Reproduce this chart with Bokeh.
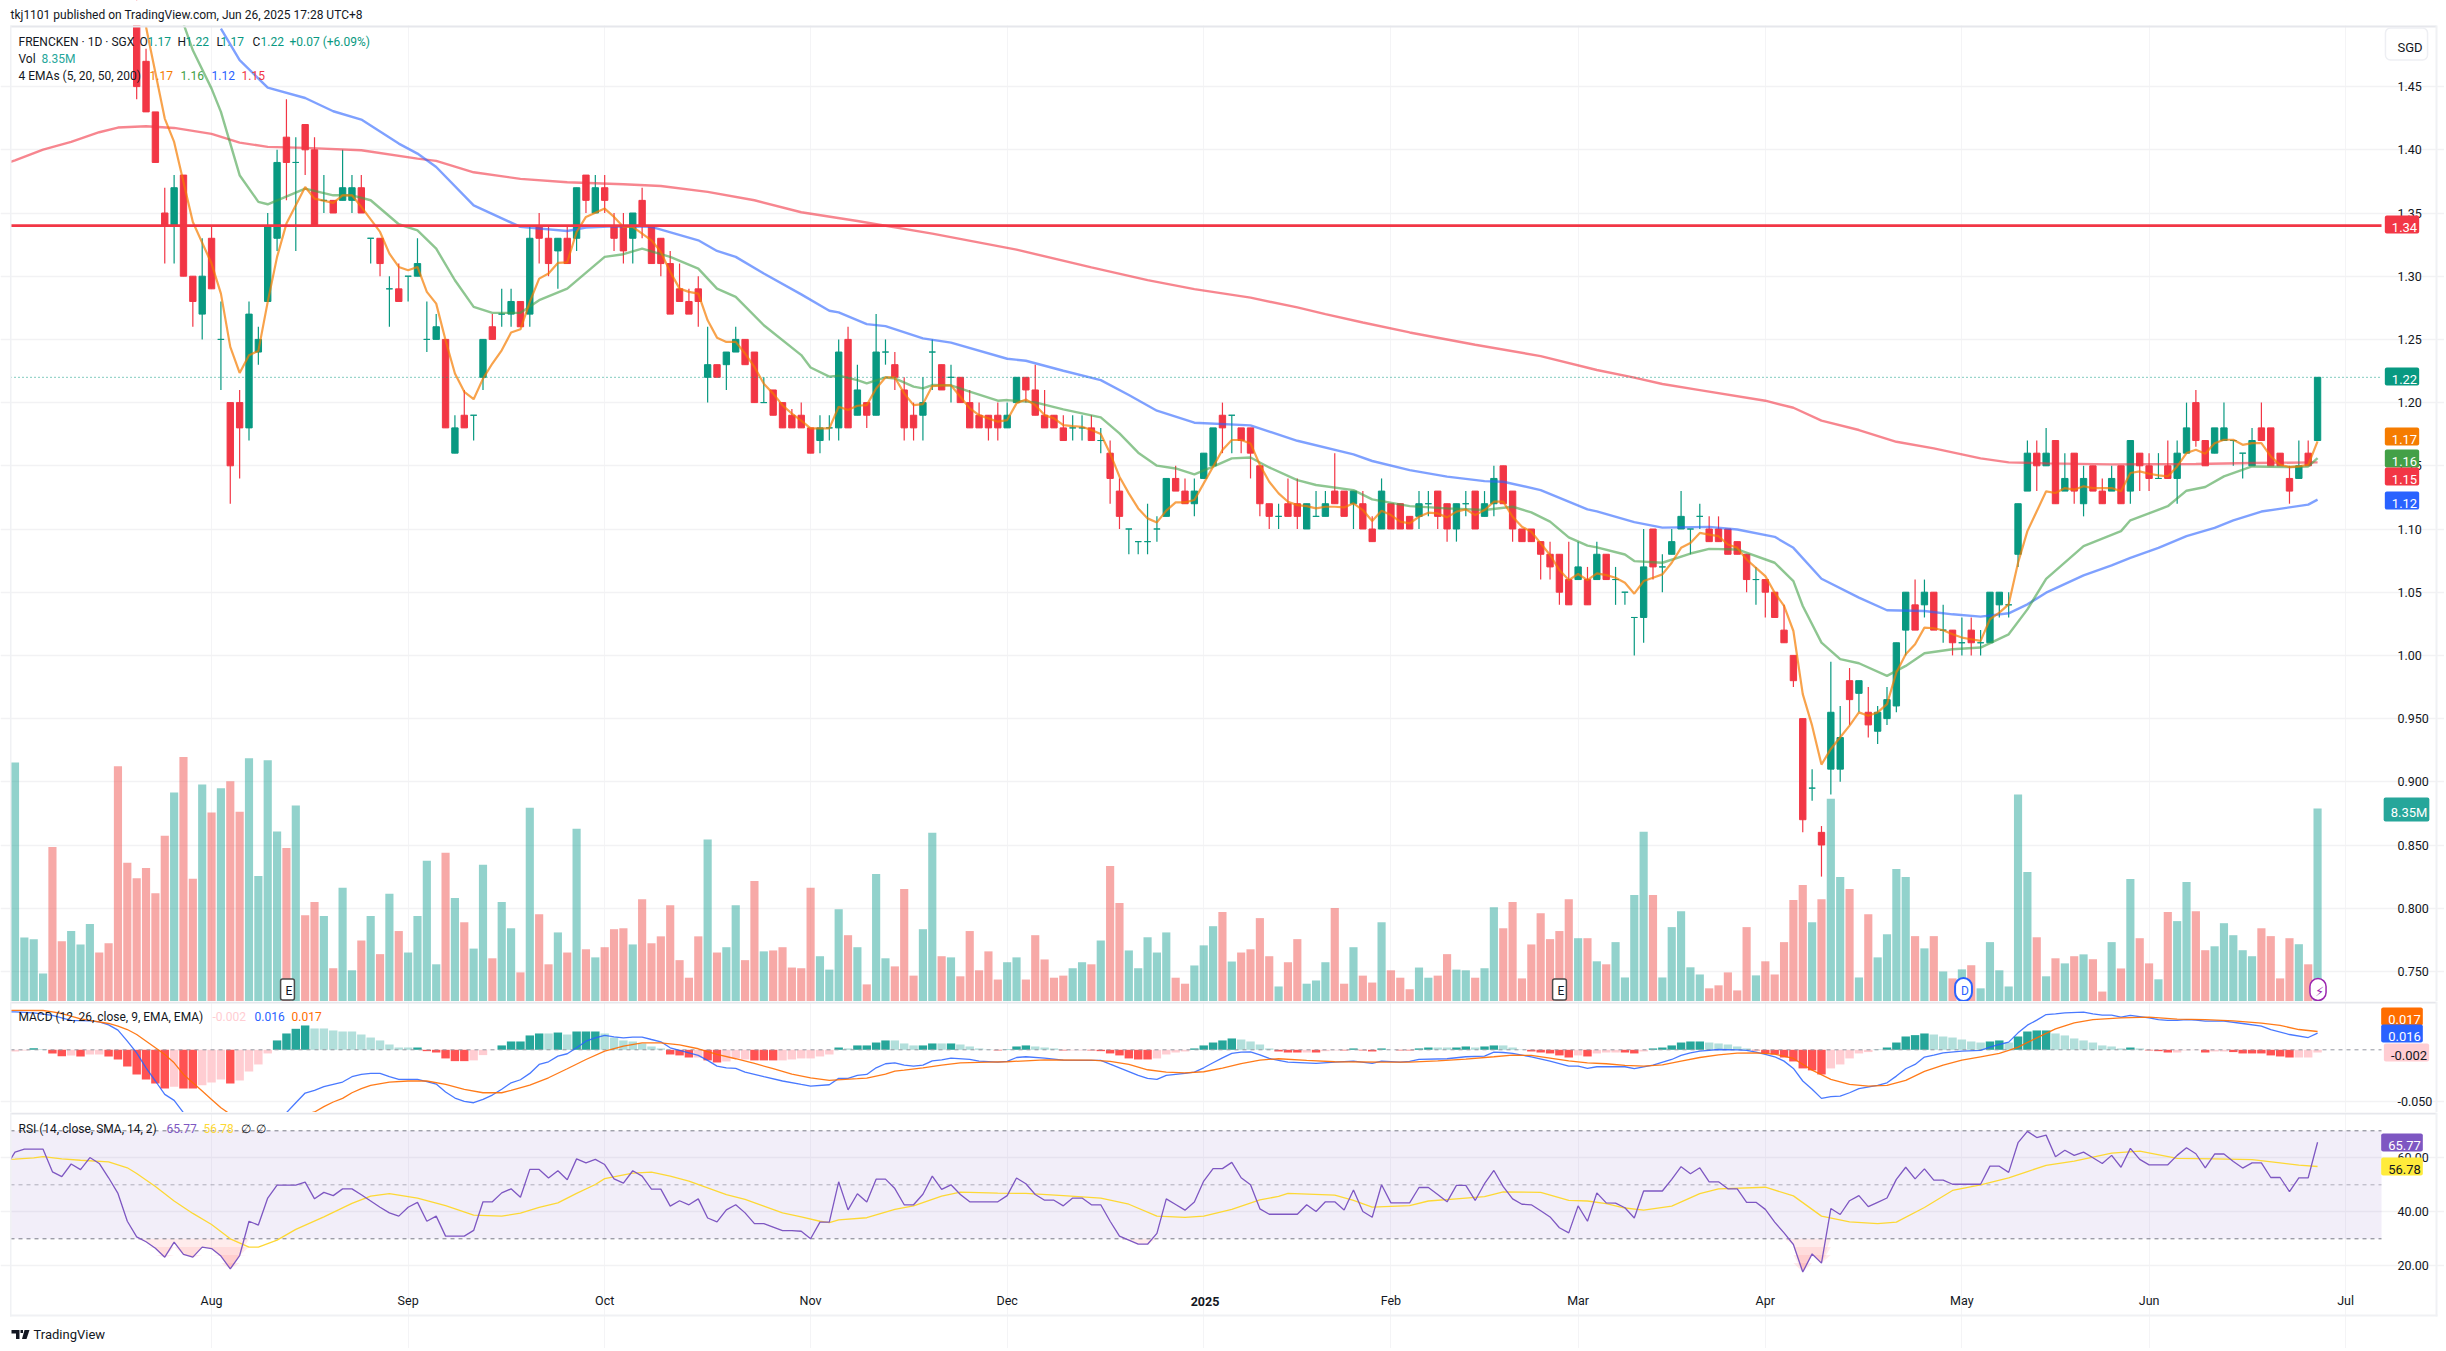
from bokeh.plotting import figure
from bokeh.layouts import column
from bokeh.models import (Range1d, FixedTicker, Label, BoxAnnotation, PolyAnnotation, LinearAxis)
from bokeh.embed import file_html
from bokeh.resources import INLINE
import numpy as np

# ---------------------------------------------------------------- data
TITLE = "tkj1101 published on TradingView.com, Jun 26, 2025 17:28 UTC+8"
PRICE_TICKS = [1.45,1.40,1.35,1.30,1.25,1.20,1.15,1.10,1.05,1.00,0.95,0.90,0.85,0.80,0.75]
PRICE_TICK_LABELS = ["1.45","1.40","1.35","1.30","1.25","1.20","1.15","1.10","1.05","1.00","0.950","0.900","0.850","0.800","0.750"]
MONTH_POS = [21,42,63,85,106,127,147,167,187,208,228,249]
MONTH_LABELS = ["Aug","Sep","Oct","Nov","Dec","2025","Feb","Mar","Apr","May","Jun","Jul"]
LEVEL = 1.34
LAST_CLOSE = 1.22

CANDLE_START = 13
CANDLE_DIR = ("RRRRGRRGRG" "RRGGGGRGRR" "GRGGRGRGRG" "GGGRGRGGRG" "GRGRRGRGRG" "RRRGRRRRRR"
              "RGRGGRRGRR" "RRRGGGRGRG" "GRRRGGRGRR" "RRRGGRRRRR" "GGRGRRGGGG" "GRRGGGRGRR"
              "RRGRRGGGRR" "GRRGRRRGGR" "RGGRGGRRRR" "RRRRGRGRGG" "GGRGGGGGRR" "RRRGRRRRRG"
              "RGGRGRGGGG" "RGRGRGRGGG" "GGGRGRGRGR" "RGRGRRGRGG" "RRGGGGGRRR" "RGRG")
CANDLE_HIGH = [1.53,1.48,1.43,1.37,1.38,1.38,1.30,1.33,1.34,1.28,
 1.20,1.21,1.28,1.26,1.35,1.40,1.44,1.41,1.42,1.41,
 1.38,1.36,1.40,1.38,1.38,1.33,1.33,1.30,1.31,1.30,
 1.33,1.28,1.27,1.25,1.19,1.21,1.19,1.25,1.27,1.29,
 1.29,1.28,1.34,1.35,1.34,1.33,1.34,1.37,1.38,1.38,
 1.38,1.35,1.35,1.35,1.37,1.34,1.33,1.32,1.31,1.29,
 1.30,1.26,1.23,1.24,1.26,1.25,1.24,1.22,1.21,1.20,
 1.195,1.20,1.18,1.19,1.19,1.25,1.26,1.23,1.20,1.27,
 1.25,1.24,1.22,1.20,1.22,1.25,1.23,1.23,1.22,1.21,
 1.20,1.19,1.20,1.20,1.22,1.22,1.23,1.21,1.19,1.19,
 1.19,1.19,1.19,1.18,1.17,1.14,1.10,1.09,1.12,1.11,
 1.14,1.15,1.14,1.14,1.16,1.18,1.20,1.19,1.18,1.18,
 1.15,1.12,1.12,1.14,1.14,1.12,1.13,1.13,1.16,1.13,
 1.13,1.13,1.11,1.14,1.12,1.12,1.11,1.13,1.13,1.13,
 1.12,1.12,1.13,1.13,1.13,1.15,1.15,1.13,1.10,1.10,
 1.09,1.09,1.08,1.09,1.09,1.07,1.09,1.08,1.07,1.05,
 1.03,1.10,1.10,1.08,1.10,1.13,1.10,1.12,1.11,1.11,
 1.10,1.09,1.08,1.07,1.06,1.05,1.04,1.00,.95,.91,
 .865,.995,.96,.99,.98,.975,.96,.975,1.01,1.05,
 1.06,1.06,1.05,1.04,1.02,1.03,1.03,1.02,1.05,1.05,
 1.05,1.12,1.17,1.17,1.18,1.17,1.16,1.16,1.15,1.15,
 1.14,1.15,1.15,1.17,1.16,1.16,1.16,1.17,1.17,1.20,
 1.21,1.17,1.18,1.20,1.17,1.16,1.18,1.20,1.18,1.16,
 1.15,1.17,1.17,1.22]
CANDLE_TOP = [1.51,1.47,1.43,1.35,1.37,1.38,1.30,1.30,1.33,1.25,
 1.20,1.20,1.27,1.25,1.34,1.39,1.41,1.39,1.42,1.40,
 1.36,1.36,1.37,1.37,1.37,1.33,1.33,1.29,1.29,1.30,
 1.31,1.25,1.26,1.25,1.18,1.19,1.19,1.25,1.26,1.27,
 1.28,1.28,1.33,1.34,1.33,1.33,1.33,1.37,1.38,1.37,
 1.37,1.34,1.34,1.35,1.36,1.34,1.33,1.31,1.29,1.28,
 1.29,1.23,1.23,1.24,1.25,1.25,1.24,1.20,1.21,1.20,
 1.19,1.19,1.18,1.18,1.18,1.24,1.25,1.21,1.20,1.24,
 1.24,1.23,1.21,1.19,1.20,1.24,1.23,1.22,1.22,1.20,
 1.19,1.19,1.19,1.19,1.22,1.22,1.21,1.19,1.19,1.18,
 1.18,1.18,1.18,1.17,1.16,1.13,1.10,1.09,1.09,1.10,
 1.14,1.14,1.13,1.13,1.16,1.18,1.19,1.19,1.18,1.18,
 1.15,1.12,1.11,1.12,1.12,1.12,1.11,1.12,1.13,1.13,
 1.13,1.12,1.10,1.13,1.12,1.12,1.11,1.12,1.12,1.13,
 1.12,1.12,1.12,1.13,1.12,1.14,1.15,1.13,1.10,1.10,
 1.09,1.08,1.08,1.06,1.07,1.06,1.08,1.08,1.06,1.05,
 1.03,1.07,1.10,1.07,1.09,1.11,1.10,1.11,1.10,1.10,
 1.10,1.09,1.08,1.06,1.06,1.05,1.02,1.00,.95,.895,
 .86,.955,.935,.98,.98,.955,.955,.965,1.01,1.05,
 1.04,1.05,1.05,1.02,1.02,1.01,1.02,1.01,1.05,1.05,
 1.04,1.12,1.16,1.16,1.16,1.17,1.14,1.16,1.14,1.15,
 1.13,1.14,1.15,1.17,1.16,1.15,1.14,1.15,1.16,1.18,
 1.20,1.17,1.18,1.18,1.17,1.16,1.17,1.18,1.18,1.16,
 1.14,1.15,1.16,1.22]
CANDLE_BOTTOM = [1.45,1.43,1.39,1.34,1.34,1.30,1.28,1.27,1.29,1.25,
 1.15,1.18,1.18,1.24,1.28,1.33,1.39,1.39,1.40,1.34,
 1.36,1.35,1.36,1.36,1.35,1.33,1.31,1.29,1.28,1.30,
 1.30,1.25,1.25,1.18,1.16,1.18,1.19,1.22,1.25,1.27,
 1.27,1.26,1.27,1.33,1.31,1.32,1.31,1.33,1.36,1.35,
 1.36,1.33,1.32,1.33,1.34,1.31,1.31,1.27,1.28,1.27,
 1.28,1.22,1.22,1.23,1.24,1.23,1.20,1.20,1.19,1.18,
 1.18,1.18,1.16,1.17,1.18,1.18,1.18,1.19,1.19,1.19,
 1.24,1.22,1.18,1.18,1.19,1.24,1.21,1.22,1.20,1.18,
 1.18,1.18,1.18,1.18,1.20,1.21,1.19,1.18,1.18,1.17,
 1.18,1.18,1.17,1.17,1.14,1.11,1.10,1.09,1.09,1.10,
 1.11,1.13,1.12,1.12,1.14,1.15,1.18,1.19,1.17,1.16,
 1.12,1.11,1.11,1.11,1.11,1.10,1.11,1.11,1.12,1.11,
 1.12,1.10,1.09,1.10,1.10,1.10,1.10,1.11,1.12,1.11,
 1.10,1.10,1.12,1.10,1.11,1.12,1.12,1.10,1.09,1.09,
 1.08,1.07,1.05,1.04,1.06,1.04,1.06,1.06,1.06,1.05,
 1.03,1.03,1.07,1.07,1.08,1.10,1.10,1.11,1.09,1.09,
 1.08,1.08,1.06,1.06,1.05,1.03,1.01,.98,.87,.895,
 .85,.91,.91,.965,.97,.945,.94,.95,.96,1.02,
 1.02,1.04,1.02,1.02,1.01,1.01,1.01,1.01,1.01,1.04,
 1.04,1.08,1.13,1.15,1.15,1.12,1.13,1.13,1.12,1.13,
 1.12,1.13,1.12,1.13,1.15,1.14,1.14,1.14,1.14,1.16,
 1.17,1.15,1.16,1.17,1.17,1.16,1.15,1.17,1.15,1.15,
 1.13,1.14,1.15,1.17]
CANDLE_LOW = [1.44,1.43,1.39,1.31,1.31,1.30,1.26,1.25,1.29,1.21,
 1.12,1.14,1.17,1.23,1.28,1.32,1.36,1.32,1.38,1.34,
 1.35,1.35,1.36,1.35,1.35,1.31,1.30,1.26,1.28,1.28,
 1.30,1.24,1.25,1.18,1.16,1.18,1.17,1.21,1.25,1.26,
 1.26,1.26,1.26,1.31,1.30,1.29,1.31,1.32,1.35,1.35,
 1.35,1.32,1.31,1.31,1.33,1.31,1.30,1.27,1.28,1.27,
 1.26,1.20,1.22,1.21,1.24,1.23,1.20,1.20,1.19,1.18,
 1.18,1.18,1.16,1.16,1.17,1.17,1.18,1.19,1.18,1.19,
 1.23,1.21,1.17,1.17,1.17,1.21,1.21,1.20,1.20,1.18,
 1.18,1.17,1.17,1.18,1.20,1.20,1.19,1.18,1.18,1.17,
 1.17,1.17,1.17,1.16,1.12,1.10,1.08,1.08,1.08,1.09,
 1.11,1.13,1.12,1.11,1.14,1.15,1.16,1.16,1.16,1.14,
 1.11,1.10,1.10,1.11,1.10,1.10,1.11,1.11,1.12,1.11,
 1.10,1.10,1.09,1.10,1.10,1.10,1.10,1.10,1.11,1.10,
 1.09,1.09,1.11,1.10,1.11,1.11,1.12,1.09,1.09,1.09,
 1.06,1.06,1.04,1.04,1.06,1.04,1.06,1.06,1.04,1.04,
 1.00,1.01,1.06,1.05,1.08,1.10,1.08,1.10,1.09,1.09,
 1.08,1.08,1.05,1.04,1.03,1.03,1.01,.975,.86,.885,
 .825,.89,.90,.945,.955,.935,.93,.945,.955,1.00,
 1.02,1.03,1.02,1.01,1.00,1.00,1.00,1.00,1.01,1.03,
 1.03,1.07,1.13,1.13,1.15,1.12,1.13,1.12,1.11,1.13,
 1.12,1.13,1.12,1.12,1.13,1.13,1.14,1.14,1.12,1.16,
 1.165,1.15,1.16,1.17,1.15,1.14,1.15,1.17,1.15,1.15,
 1.12,1.14,1.15,1.17]

VOL_DIR_OFFCHART = "GGGGRRGGGRRRR"
VOLUME_M = [10.35,2.77,2.70,1.21,6.69,2.61,3.05,2.47,3.35,2.12,2.52,10.18,6.01,5.34,5.78,4.69,7.18,9.05,10.58,5.31,
 9.39,8.18,9.23,9.53,8.21,10.53,5.43,10.44,7.36,6.65,8.48,3.73,4.31,3.70,1.44,4.92,1.35,2.64,3.70,2.05,
 4.66,3.05,2.12,3.70,6.09,1.61,6.44,4.48,3.43,2.29,5.92,1.87,4.31,3.17,1.26,8.39,3.78,1.61,2.99,2.12,
 7.48,2.26,1.91,2.35,3.13,3.17,2.47,4.43,2.52,2.82,4.17,1.79,1.03,2.82,7.01,2.12,2.35,4.17,1.79,5.22,
 2.17,2.21,2.35,1.47,1.44,4.92,1.96,1.38,3.99,2.87,2.35,0.74,5.52,1.87,1.52,4.87,1.12,3.13,7.30,1.96,
 1.91,1.09,3.05,1.35,2.17,0.95,1.70,1.91,0.95,2.87,1.82,1.03,1.12,1.44,1.70,1.61,2.64,5.87,4.26,2.21,
 1.44,2.78,2.12,2.99,1.03,0.77,1.56,2.43,3.26,3.87,1.73,2.12,2.26,3.61,1.96,0.65,1.70,2.70,0.77,0.91,
 1.70,4.05,0.77,2.35,1.12,0.82,3.43,1.35,1.03,0.53,1.47,1.03,1.12,2.05,1.38,1.35,1.03,1.44,4.08,3.17,
 4.31,1.00,2.47,3.82,2.70,3.05,4.43,2.74,2.74,1.74,1.61,2.57,1.04,4.61,7.35,4.61,1.04,3.22,3.91,1.48,
 1.17,0.57,0.70,1.26,0.48,3.22,1.13,1.74,1.17,2.57,4.39,5.04,3.43,4.43,8.78,5.39,4.87,1.04,3.78,1.91,
 2.91,5.74,5.39,2.83,2.30,2.83,1.30,1.00,1.39,1.57,0.57,2.57,1.35,0.65,8.96,5.61,2.78,1.09,1.87,1.65,
 1.96,2.04,1.83,0.43,2.57,1.43,5.30,2.74,1.65,0.96,3.87,3.48,5.17,3.91,2.22,2.39,3.39,2.87,2.22,1.96,
 3.17,2.83,1.00,2.74,2.48,1.61,8.35]

EMA5_X = [14,16,17,19,21,22,23,24,25,26,27,28,29,31,32,34,35,36,37,39,40,41,42,43,44,45,46,47,48,49,50,51,52,53,54,55,56,57,58,59,60,61,63,64,65,66,68,69,70,71,72,73,74,75,76,77,78,79,80,81,82,83,
 84,85,87,88,89,90,91,92,93,94,95,96,97,98,99,100,101,102,103,104,105,106,107,108,109,110,111,112,113,114,115,116,117,118,119,120,121,122,123,124,125,126,127,128,129,130,131,132,133,134,135,136,137,138,139,140,141,142,143,144,145,146,147,148,149,150,151,152,153,154,155,156,157,158,159,160,161,162,163,164,165,166,167,168,169,
 170,171,172,173,174,175,176,177,178,179,180,181,182,183,184,185,186,187,188,189,190,191,192,193,194,195,196,197,198,199,200,201,202,203,204,205,206,207,208,209,210,211,212,213,214,215,216,217,218,219,220,221,222,223,224,225,226,227,228,229,230,231,232,233,234,235,236,237,238,239,240,241,242,243,244,245,246]
EMA5_Y = [1.4972,1.4247,1.4062,1.3429,1.3100,1.2862,1.2441,1.2235,1.2375,1.2409,1.2797,1.3153,1.3416,1.3706,1.3614,1.3580,1.3640,1.3640,1.3548,1.3350,1.3179,1.3073,1.3047,1.3073,1.2876,1.2783,1.2493,1.2230,1.2085,1.2027,1.2190,1.2309,1.2414,1.2554,1.2580,1.2797,1.2981,1.3021,1.3105,1.3110,1.3350,1.3469,1.3535,1.3469,1.3390,1.3390,1.3284,1.3192,1.3034,1.2902,1.2876,1.2862,1.2651,1.2514,1.2480,1.2480,1.2388,1.2282,1.2150,1.2071,1.1979,1.1913,
 1.1857,1.1796,1.1796,1.1967,1.1941,1.1975,1.1980,1.2112,1.2199,1.2199,1.2073,1.1980,1.1988,1.2131,1.2136,1.2136,1.2046,1.1954,1.1901,1.1875,1.1849,1.1862,1.1994,1.2025,1.1980,1.1901,1.1875,1.1822,1.1814,1.1809,1.1783,1.1751,1.1598,1.1414,1.1282,1.1163,1.1084,1.1052,1.1145,1.1211,1.1211,1.1229,1.1361,1.1493,1.1625,1.1704,1.1704,1.1677,1.1506,1.1374,1.1282,1.1216,1.1189,1.1181,1.1163,1.1176,1.1176,1.1171,1.1203,1.1150,1.1063,1.1145,1.1110,1.1058,1.1044,1.1097,1.1129,1.1123,1.1092,1.1137,1.1155,1.1110,1.1150,1.1216,1.1216,1.1097,1.1018,1.0978,1.0886,1.0794,1.0675,1.0596,1.0644,1.0596,1.0649,
 1.0635,1.0614,1.0575,1.0488,1.0588,1.0614,1.0641,1.0733,1.0851,1.0890,1.0969,1.0956,1.0943,1.0877,1.0851,1.0759,1.0693,1.0627,1.0496,1.0391,1.0193,.9694,.9444,.9136,.9260,.9352,.9444,.9549,.9523,.9549,.9615,.9865,1.0009,1.0088,1.0220,1.0215,1.0199,1.0167,1.0141,1.0128,1.0115,1.0286,1.0338,1.0404,1.0733,1.0983,1.1140,1.1298,1.1285,1.1324,1.1311,1.1338,1.1324,1.1324,1.1324,1.1298,1.1443,1.1456,1.1437,1.1424,1.1416,1.1495,1.1601,1.1627,1.1595,1.1679,1.1706,1.1706,1.1666,1.1679,1.1679,1.1574,1.1508,1.1490,1.1495,1.1508,1.1693]

EMA20_X = [18,19,21,22,24,26,27,31,34,36,38,41,43,45,47,49,51,54,56,59,63,65,67,70,73,75,77,80,84,85,87,88,90,91,93,94,96,97,98,100,102,105,106,109,112,116,118,120,122,124,126,128,130,132,134,137,139,143,145,149,153,157,160,162,164,166,168,169,172,173,176,179,181,184,188,190,191,193,195,197,200,202,204,207,210,213,215,217,221,225,226,230,232,234,236,239,243,245,246]
EMA20_Y = [1.4998,1.4787,1.4484,1.4300,1.3799,1.3588,1.3569,1.3693,1.3640,1.3640,1.3601,1.3411,1.3363,1.3218,1.2968,1.2757,1.2710,1.2710,1.2810,1.2902,1.3153,1.3174,1.3218,1.3153,1.3060,1.2902,1.2836,1.2612,1.2376,1.2278,1.2205,1.2213,1.2178,1.2152,1.2199,1.2191,1.2126,1.2112,1.2139,1.2136,1.2086,1.2015,1.2020,1.2002,1.1946,1.1883,1.1756,1.1604,1.1501,1.1479,1.1432,1.1493,1.1559,1.1566,1.1487,1.1387,1.1348,1.1308,1.1234,1.1181,1.1163,1.1150,1.1176,1.1131,1.1058,1.0934,1.0868,1.0855,1.0798,1.0746,1.0733,1.0806,1.0843,1.0838,1.0733,1.0588,1.0391,1.0101,.9970,.9938,.9838,.9917,1.0017,1.0049,1.0062,1.0167,1.0364,1.0606,1.0864,1.0983,1.1069,1.1180,1.1303,1.1332,1.1416,1.1495,1.1490,1.1495,1.1561]

EMA50_X = [22,24,27,31,34,37,41,43,45,49,54,59,61,64,68,73,75,77,80,84,87,88,91,93,97,100,106,108,112,116,119,122,126,132,137,143,145,149,153,157,159,163,168,169,173,176,181,184,188,190,193,197,200,204,207,210,213,215,217,221,224,226,229,232,235,237,240,245,246]
EMA50_Y = [1.4959,1.4709,1.4492,1.4410,1.4305,1.4239,1.4049,1.3970,1.3864,1.3561,1.3390,1.3358,1.3385,1.3395,1.3390,1.3284,1.3200,1.3153,1.3021,1.2856,1.2727,1.2714,1.2621,1.2605,1.2508,1.2474,1.2347,1.2331,1.2252,1.2178,1.2060,1.1936,1.1841,1.1820,1.1698,1.1590,1.1538,1.1466,1.1414,1.1379,1.1374,1.1308,1.1155,1.1140,1.1054,1.1011,1.1017,1.0996,1.0938,1.0851,1.0606,1.0457,1.0357,1.0351,1.0325,1.0307,1.0333,1.0404,1.0496,1.0633,1.0712,1.0772,1.0851,1.0943,1.1009,1.1069,1.1138,1.1193,1.1232]

EMA200_X = [-0.48,0,3,6,9,11,14,17,21,24,27,31,37,43,45,49,54,59,65,69,74,79,84,90,98,107,115,121,126,132,137,140,144,149,156,163,169,173,176,180,187,190,193,197,201,205,210,213,217,224,233,239,246]
EMA200_Y = [1.3905,1.3917,1.4002,1.4062,1.4139,1.4176,1.4186,1.4173,1.4126,1.4057,1.4023,1.4015,1.3996,1.3930,1.3912,1.3822,1.3770,1.3743,1.3727,1.3714,1.3667,1.3601,1.3506,1.3437,1.3337,1.3210,1.3070,1.2969,1.2898,1.2830,1.2753,1.2700,1.2634,1.2555,1.2458,1.2368,1.2258,1.2197,1.2147,1.2099,1.2015,1.1959,1.1857,1.1783,1.1690,1.1638,1.1559,1.1527,1.1519,1.1511,1.1514,1.1522,1.1527]

HIST_COLOR_CODE = ("rrTtRRrRrr" "RRRRRRRrRR" "rrrRrrrrTT" "TTtttttttt" "tttTRRRRRr" "rrTTTTTtTt" "TTTttttttt"
  "RRRrRRrrrR" "RRrrrrrrTt" "TTTTtttTTt" "TttttRTTTt" "ttRrrRRRRR" "RRrrrrTTTT" "TttttRRRrR" "rrRTRRTtRR"
  "TTttTTtTTt" "ttRRRRRrRr" "rrRRrTTTTT" "TtttttRRRR" "RRRRrrrrrT" "TTTTTttttt" "tTTtTTTTtt" "ttttttTtRR"
  "RrrrRrrRRR" "RRRRrrr")
MACD_HIST_MILLI = [-1.6,-0.6,1.6,0.6,-3.5,-6.1,-5.4,-6.4,-4.5,-4.5,
 -6.4,-9.3,-16.0,-23.7,-28.5,-32.3,-37.1,-35.5,-37.1,-37.1,
 -34.2,-31.4,-28.5,-32.3,-29.4,-20.8,-14.1,-3.5,9.0,15.7,
 20.2,23.4,20.5,20.5,18.6,17.6,17.6,14.7,11.8,9.0,
 5.1,2.2,2.2,2.2,-1.3,-2.6,-8.3,-10.9,-10.9,-10.2,
 -5.1,-0.3,4.2,8.0,8.0,13.8,15.7,15.7,16.6,14.7,
 17.6,17.6,17.6,15.7,11.8,9.0,8.0,6.1,3.2,1.3,
 -4.5,-5.4,-7.4,-7.4,-10.2,-12.2,-11.2,-8.3,-9.3,-10.2,
 -10.2,-10.2,-10.2,-9.3,-8.3,-8.3,-6.4,-4.5,2.2,1.3,
 4.2,4.2,7.0,9.0,9.0,6.1,4.2,4.2,6.1,6.1,
 6.1,5.1,3.2,1.3,0.3,-0.6,0.3,3.2,4.2,3.2,
 2.2,1.3,-0.6,-0.6,-0.6,-0.6,-1.3,-3.5,-5.4,-8.3,
 -9.3,-9.3,-8.3,-4.5,-2.6,-1.6,1.3,4.2,7.0,9.0,
 10.9,9.9,8.0,5.1,1.3,-1.6,-2.6,-2.6,-2.6,-2.6,
 -1.3,-0.6,-0.6,1.3,-0.6,-1.6,1.3,0.1,-0.6,-0.6,
 1.3,2.2,2.2,2.2,2.2,3.2,2.2,3.2,4.2,4.2,
 2.2,0.3,-1.6,-2.6,-3.5,-5.4,-7.4,-5.4,-6.4,-3.5,
 -2.6,-2.6,-2.6,-3.5,-1.6,1.3,2.2,4.2,7.0,8.0,
 8.0,7.0,6.1,5.1,3.2,1.3,-0.6,-3.5,-4.5,-7.4,
 -11.2,-17.9,-19.8,-23.7,-17.9,-14.1,-8.3,-3.5,-2.2,0.2,
 2.2,7.0,12.8,14.1,15.7,14.7,12.8,11.8,9.9,8.0,
 7.0,8.0,9.0,7.0,12.8,17.6,18.6,18.6,15.7,13.8,
 10.9,9.0,7.0,4.2,3.2,1.3,2.2,1.3,-0.6,-1.3,
 -2.6,-2.6,-0.6,-0.3,-2.6,-1.6,-1.6,-2.2,-3.5,-3.5,
 -3.5,-5.4,-6.4,-7.4,-7.4,-7.4,-2.6]

MACD_X = [-0.48,0,2,4,6,8,9,10,11,12,13,14,15,16,17,18,20,22,24,26,28,29,30,31,32,33,35,36,37,38,39,40,41,43,44,45,46,47,48,49,50,51,52,53,54,55,56,57,58,59,60,61,62,63,64,65,66,67,68,69,70,72,73,74,75,76,77,78,80,82,84,
 85,87,88,89,90,91,92,93,94,95,96,97,98,99,100,102,103,105,106,107,108,110,112,116,117,118,120,121,122,123,125,126,127,128,129,130,131,132,133,134,135,136,139,141,143,145,146,148,149,150,153,155,157,158,159,160,162,164,166,167,168,169,
 170,172,173,175,177,178,179,180,182,184,185,186,187,188,189,190,191,192,193,194,195,196,197,199,200,201,202,203,204,205,206,208,210,211,212,213,214,215,216,217,218,219,221,222,223,224,225,226,228,229,230,231,232,233,234,236,238,240,241,243,245,246]
MACD_Y = [36.5,36.5,35.5,33,28.2,27.8,26.9,24,18.9,8.3,-2.9,-17.3,-30,-42.9,-48.6,-60.5,-70,-78,-80,-74,-66,-60.5,-50.9,-41.6,-39,-35.5,-31,-25.9,-23.7,-22.7,-22.7,-25.9,-28.5,-28.5,-30.7,-33,-40.6,-46.4,-49.6,-50.9,-47.7,-43.5,-38,-31.7,-28.8,-22.7,-14.1,-11.5,-6.1,-3.8,1.9,8.3,11.5,13.8,12.5,11.5,12.2,12.2,9.9,7.7,1.9,-2.9,-5.4,-10.2,-15.7,-17.3,-17.9,-21.4,-25.9,-30,-33.3,
 -34.9,-33.6,-27.5,-27.5,-24.6,-23.7,-17.3,-13.4,-12.5,-14.7,-15.7,-14.7,-10.6,-9.6,-8,-9.3,-10.9,-11.8,-11.2,-7.4,-6.7,-8,-9.9,-10.2,-13.8,-17.3,-24.6,-27.5,-28.5,-24.6,-22.7,-21.4,-17.3,-12.5,-7.7,-3.5,-2.2,-1.9,-4.8,-8.3,-10.2,-11.8,-13.1,-11.8,-10.9,-13.1,-10.9,-11.8,-11.2,-9.3,-8.6,-6.7,-6.1,-2.2,-2.6,-3.5,-6.7,-10.9,-15.7,-15.7,-17.9,-16.3,
 -16.3,-16.3,-18.2,-14.7,-9.3,-5.4,-2.9,-1.3,0.3,0,-0.6,-2.2,-4.5,-6.7,-10.9,-17.9,-30,-38,-46.7,-45.1,-44.5,-41.3,-37.4,-34.2,-31.7,-25.3,-18.2,-14.1,-7,-5.1,-2.9,-1.3,-0.6,2.6,5.1,7.4,16.3,23.7,28.5,33.9,34.6,35.5,36.2,34.6,33.3,33.3,31.4,33,30.7,29.1,28.2,28.2,29.1,28.5,27.5,27.5,25.3,22.7,19.5,14.7,11.8,16.0]

SIGNAL_X = [-0.48,0,3,4,5,7,8,10,11,12,13,15,16,17,18,19,20,21,22,23,25,27,29,31,32,33,34,35,36,37,38,40,42,44,46,48,50,52,53,55,57,59,61,63,65,67,69,71,73,75,77,79,81,83,
 85,87,90,91,93,94,95,97,99,101,104,106,108,110,115,117,119,121,123,125,127,129,131,133,135,138,141,146,149,152,155,158,160,162,164,166,168,
 170,172,174,176,178,180,182,184,186,188,190,192,194,196,198,200,202,204,206,208,210,212,213,214,216,218,220,222,225,228,231,234,237,240,242,244,246]
SIGNAL_Y = [38,38,37.8,36.5,34.9,29.8,28.2,25.3,22.7,19.5,14.7,1.9,-4.5,-12.5,-23.7,-31.7,-39.7,-47.7,-55.7,-62,-70,-73,-71,-62,-59.8,-54.7,-50.2,-46.7,-41.3,-37.4,-34.2,-31,-30,-30,-33.3,-38,-41.3,-41.3,-39,-33.9,-26.9,-18.2,-9.3,-1.3,3.5,6.7,6.7,4.8,1,-4.5,-8.6,-13.1,-18.2,-23.4,
 -26.9,-29.4,-27.8,-27.2,-23.4,-20.5,-19.5,-17.3,-14.7,-12.5,-11.8,-11.5,-10.6,-9.6,-9.9,-11.2,-14.1,-19.2,-21.4,-22.1,-21.1,-17.6,-13.4,-9.9,-8.6,-10.2,-11.5,-11.8,-11.8,-10.6,-9,-6.7,-5.1,-5.4,-8,-10.6,-12.5,
 -13.4,-15,-15.7,-14.4,-10.9,-7.4,-4.8,-3.2,-2.9,-4.2,-8.3,-19.5,-28.5,-33.3,-34.9,-34.2,-29.4,-20.8,-14.7,-9.9,-6.7,-3.5,-0.6,2.6,11.5,20.2,25.9,29.1,30.7,31.4,29.4,29.1,27.8,25.6,23.4,19.5,17.6]

RSI_BEFORE_FIRST_BAR = 59.4
RSI = [62.1,63.2,63.2,63.2,54.8,53.0,57.7,55.6,60.1,57.9,52.6,46.8,36.5,30.7,28.9,26.5,23.2,28.8,24.2,23.2,
 26.9,26.4,23.6,18.9,23.8,36.5,35.1,45.1,49.9,49.9,49.9,51.0,44.8,47.2,46.0,48.5,48.5,46.3,44.0,41.7,
 39.6,38.4,41.7,43.5,36.5,38.4,31.0,31.0,31.0,33.1,43.7,43.7,47.0,48.5,45.4,55.7,55.7,52.5,55.2,51.9,
 59.6,58.1,59.4,57.5,52.2,50.6,55.2,53.2,48.4,48.4,42.1,44.1,42.6,44.8,37.7,36.3,40.7,42.6,39.6,35.6,
 35.6,34.3,33.0,33.0,32.8,30.0,36.2,36.2,51.1,40.7,46.7,43.6,52.1,52.1,48.6,42.6,42.6,46.5,53.2,48.3,
 50.0,46.4,43.7,43.7,43.7,43.7,46.0,52.5,50.4,46.4,44.3,44.3,42.2,45.1,45.1,42.6,42.6,36.5,31.0,29.5,
 28.0,28.0,32.0,44.8,42.7,40.6,43.6,51.4,56.0,56.0,58.3,52.6,50.0,41.1,39.1,39.1,39.1,39.1,42.6,40.1,
 43.7,43.7,40.7,48.1,40.1,38.0,50.0,43.3,43.3,43.3,49.0,49.0,46.4,43.7,49.8,49.8,44.2,50.4,55.3,49.3,
 44.8,42.8,42.6,40.4,38.1,34.1,32.2,42.2,36.5,47.0,43.3,43.2,41.5,37.7,47.7,47.7,47.7,52.0,56.7,54.1,
 56.3,51.1,51.1,48.5,48.5,43.5,43.5,40.9,36.2,32.2,27.9,17.7,24.4,21.0,41.2,39.0,44.1,46.0,41.9,43.5,
 45.1,52.0,56.5,52.2,55.9,51.7,51.7,50.2,50.2,50.2,50.2,56.9,56.9,54.6,65.6,69.8,67.5,68.4,60.4,62.8,
 60.9,62.1,60.0,57.9,60.9,56.5,63.5,59.4,57.4,57.4,57.4,60.9,63.7,61.5,56.3,61.4,61.4,58.6,56.2,58.1,
 58.1,52.7,52.7,47.5,52.6,52.6,65.77]

RSI_MA_X = [-0.48,0,2,3,5,7,10,12,13,15,17,19,21,23,25,26,28,30,33,36,38,40,43,46,49,52,54,56,58,60,62,63,66,68,70,72,74,76,78,80,82,
 84,86,87,88,91,94,96,99,101,105,108,112,116,119,122,125,127,130,133,135,136,141,143,145,149,151,154,157,159,163,166,168,
 170,172,174,177,180,182,187,190,193,196,199,201,204,207,210,213,215,217,220,224,227,231,235,239,242,244,246]
RSI_MA_Y = [59.4,59.5,60.0,60.4,59.6,59.1,58.5,56.3,54.2,49.4,44.0,39.4,35.3,30.0,26.9,26.9,29.5,33.5,38.1,43.1,45.8,46.7,45.1,42.3,38.8,38.4,39.5,41.6,43.3,46.8,50.1,52.3,54.3,54.7,53.2,51.4,48.9,46.4,44.6,42.1,39.6,
 38.1,36.5,36.0,37.0,37.8,40.9,42.2,45.8,47.3,46.9,46.8,46.0,45.1,42.8,38.4,37.9,38.4,40.9,44.4,45.7,46.8,46.2,44.2,41.7,42.3,44.0,44.8,45.6,47.4,47.2,44.2,44.0,
 43.0,41.4,40.6,42.1,46.7,48.5,49.1,45.9,38.4,36.3,35.6,36.2,41.6,47.9,50.0,52.6,54.9,57.2,58.8,61.7,62.5,59.8,59.6,59.3,58.1,57.3,56.78]

# ---------------------------------------------------------------- page geometry (reference pixels)
WIDTH = 2444
FL, FR = 10, 2381
F1T, F1B = 27, 1002
F2T, F2B = 1003, 1113
F3T, F3B = 1114, 1287
PAGE_T = 1
PAGE_B = 1349
BORDER_R = 2436
BAR_STEP = 9.36
BAR0 = 14.5

def ix(px): return (px - BAR0) / BAR_STEP
def price_at(y): return 1.15 + (466.3 - y) / 1264
def macd_at(y): return (1050.3 - y) / 1.04
def rsi_at(y): return 20 + (1266.3 - y) / 2.7

UP, DOWN = "#089981", "#f23645"
VOL_UP, VOL_DOWN = "#26a69a", "#ef5350"
FONT = "Roboto"
TXT = "#131722"
GRID = "#f2f2f4"
SEP = "#e6e7ec"
EDGE = "#f0f1f4"
ORANGE, GREEN, BLUE = "#f57c00", "#43a047", "#2962ff"
HIST = {"T": "#26a69a", "t": "#b2dfdb", "R": "#ff5252", "r": "#ffcdd2"}

xr = Range1d(ix(0), ix(WIDTH))
XL, XR = ix(FL), ix(FR)

def make_fig(ytop_px, ybot_px, to_val, ft, fb):
    p = figure(width=WIDTH, height=ybot_px - ytop_px, x_range=xr,
               y_range=Range1d(to_val(ybot_px), to_val(ytop_px)),
               output_backend="svg", toolbar_location=None, x_axis_location=None,
               y_axis_location="right", min_border=0, min_border_left=0, min_border_right=0,
               min_border_top=0, min_border_bottom=0, border_fill_color="white",
               background_fill_color="white", outline_line_color=None)
    p.xgrid.ticker = FixedTicker(ticks=MONTH_POS)
    p.xgrid.grid_line_color = "#f4f4f6"
    p.xgrid.grid_line_width = 1
    p.xgrid.bounds = (to_val(fb), to_val(ft))
    p.ygrid.grid_line_color = GRID
    p.ygrid.grid_line_width = 1.5
    p.ygrid.bounds = (XL, XR)
    ax = p.yaxis[0]
    ax.fixed_location = XR
    ax.axis_line_color = None
    ax.major_tick_line_color = None
    ax.minor_tick_line_color = None
    ax.major_label_text_font = FONT
    ax.major_label_text_font_size = "12.5px"
    ax.major_label_text_color = TXT
    ax.major_label_standoff = 10
    p._fb = ybot_px
    return p

def put(p, x, y, text, color=TXT, size="12.5px", align="left", style="normal", font=FONT, **kw):
    lab = Label(x=x, y=p._fb - y, x_units="screen", y_units="screen", text=text,
                text_color=color, text_font=font, text_font_size=size, text_align=align,
                text_baseline="middle", text_font_style=style, **kw)
    p.add_layout(lab)
    return lab

def tag(p, y, text, bg, color="white", cx=2401.5):
    return put(p, cx, y, text, color=color, align="center", background_fill_color=bg,
               padding=(7, 2, 7, 2), border_radius=2, size="13px")

def rule(p, x0, x1, y0, y1, color=SEP):
    p.add_layout(BoxAnnotation(left=x0, right=x1, top=p._fb - y0, bottom=p._fb - y1,
                               left_units="screen", right_units="screen", top_units="screen",
                               bottom_units="screen", fill_color=color, fill_alpha=1,
                               line_color=None))

# ---------------------------------------------------------------- price panel
p1 = make_fig(PAGE_T, F1B, price_at, F1T, F1B)
p1.yaxis[0].ticker = FixedTicker(ticks=PRICE_TICKS)
p1.yaxis[0].major_label_overrides = dict(zip(PRICE_TICKS, PRICE_TICK_LABELS))
p1.ygrid.ticker = FixedTicker(ticks=PRICE_TICKS)

p1.extra_y_ranges["vol"] = Range1d(0, (F1B - PAGE_T) / 23.1)
idx = np.arange(len(VOLUME_M))
vol_dir = VOL_DIR_OFFCHART + CANDLE_DIR
p1.vbar(x=idx, top=VOLUME_M, bottom=0, width=0.87, y_range_name="vol",
        fill_color=[VOL_UP if d == "G" else VOL_DOWN for d in vol_dir], fill_alpha=0.5, line_color=None)

cx = np.arange(CANDLE_START, CANDLE_START + len(CANDLE_DIR))
ccol = [UP if d == "G" else DOWN for d in CANDLE_DIR]
p1.segment(x0=cx, x1=cx, y0=CANDLE_LOW, y1=CANDLE_HIGH, line_color=ccol, line_width=1.2)
p1.vbar(x=cx, top=CANDLE_TOP, bottom=CANDLE_BOTTOM, width=0.68, fill_color=ccol, line_color=ccol, line_width=1)

p1.line(EMA200_X, EMA200_Y, line_color=DOWN, line_alpha=0.6, line_width=2.4)
p1.line(EMA50_X, EMA50_Y, line_color=BLUE, line_alpha=0.6, line_width=2.4)
p1.line(EMA20_X, EMA20_Y, line_color=GREEN, line_alpha=0.6, line_width=2.4)
p1.line(EMA5_X, EMA5_Y, line_color=ORANGE, line_alpha=0.7, line_width=2.2)

p1.line([XL, XR], [LAST_CLOSE, LAST_CLOSE], line_color=UP, line_width=1, line_dash=[1, 3])
p1.line([XL, XR], [LEVEL, LEVEL], line_color=DOWN, line_width=2.6)

# anything above the chart pane is hidden, as in a clipped pane
rule(p1, 0, WIDTH, 0, 26, color="white")
rule(p1, FL, BORDER_R, 26, 28)
rule(p1, 9.5, 11, 26, F1B, color=EDGE)
rule(p1, BORDER_R - 1, BORDER_R + 1, 26, F1B, color=EDGE)

put(p1, 10, 15, TITLE, size="12px")
hdr = 42
put(p1, 18, hdr, "FRENCKEN · 1D · SGX", size="12px")
for x, s in [(139, "O"), (177, "H"), (216, "L"), (252, "C")]:
    put(p1, x, hdr, s, size="12px")
for x, s in [(147, "1.17"), (185, "1.22"), (220, "1.17"), (260, "1.22"), (289, "+0.07 (+6.09%)")]:
    put(p1, x, hdr, s, color=UP, size="12px")
put(p1, 18, 59, "Vol", size="12px")
put(p1, 41, 59, "8.35M", color=VOL_UP, size="12px")
put(p1, 18, 76, "4 EMAs (5, 20, 50, 200)", size="12px")
for x, s, c in [(149, "1.17", ORANGE), (180, "1.16", GREEN), (211, "1.12", BLUE), (241, "1.15", DOWN)]:
    put(p1, x, 76, s, color=c, size="12px")

put(p1, 2406, 44.5, "SGD", align="center", size="13px", border_line_color="#eeeff3", border_line_width=1.5,
    padding=(12, 5, 12, 5), border_radius=5, background_fill_color="white")
tag(p1, 225, "1.34", DOWN)
tag(p1, 377, "1.22", UP)
tag(p1, 437, "1.17", ORANGE)
tag(p1, 459, "1.16", GREEN)
tag(p1, 477, "1.15", DOWN)
tag(p1, 501, "1.12", BLUE)
tag(p1, 810, "8.35M", VOL_UP, cx=2406)

EBOX = dict(align="center", size="12px", background_fill_color="white", border_line_color="#4a4a4a",
            border_line_width=1.5, padding=(5, 2, 5, 2), border_radius=2)
put(p1, 287, 990, "E", **EBOX)
put(p1, 1559, 990, "E", **EBOX)
put(p1, 1963, 990, "D", align="center", size="12px", color=BLUE, background_fill_color="white",
    border_line_color=BLUE, border_line_width=2, padding=(6, 3, 6, 3), border_radius=10)
put(p1, 2317.5, 990, "⚡", align="center", size="13px", color="#9c27b0", font="DejaVu Sans",
    background_fill_color="white", border_line_color="#9c27b0", border_line_width=1.5,
    padding=(5, 2, 5, 2), border_radius=10)

# ---------------------------------------------------------------- MACD panel
p2 = make_fig(F1B, F2B, macd_at, F2T, F2B)
p2.yaxis[0].ticker = FixedTicker(ticks=[-50])
p2.yaxis[0].major_label_overrides = {-50: "-0.050"}
p2.ygrid.ticker = FixedTicker(ticks=[-50])
p2.vbar(x=np.arange(len(MACD_HIST_MILLI)), top=MACD_HIST_MILLI, bottom=0, width=0.9,
        fill_color=[HIST[c] for c in HIST_COLOR_CODE], line_color=None)
p2.line([XL, XR], [0, 0], line_color="#9598a1", line_width=1, line_dash=[4, 4])
p2.line(MACD_X, MACD_Y, line_color=BLUE, line_width=1.3, line_alpha=0.85)
p2.line(SIGNAL_X, SIGNAL_Y, line_color="#ff6d00", line_width=1.3, line_alpha=0.9)
rule(p2, FL, BORDER_R, 1002, 1004)
rule(p2, 9.5, 11, 1002, F2B, color=EDGE)
rule(p2, BORDER_R - 1, BORDER_R + 1, 1002, F2B, color=EDGE)
put(p2, 18, 1017, "MACD (12, 26, close, 9, EMA, EMA)", size="12px")
put(p2, 212, 1017, "-0.002", color="#ffcdd2", size="12px")
put(p2, 254, 1017, "0.016", color=BLUE, size="12px")
put(p2, 291, 1017, "0.017", color="#ff6d00", size="12px")
tag(p2, 1017, "0.017", "#ff6d00")
tag(p2, 1034, "0.016", BLUE)
tag(p2, 1053, "-0.002", "#ffcdd2", color=TXT, cx=2406)

# ---------------------------------------------------------------- RSI panel
p3 = make_fig(F2B, PAGE_B, rsi_at, F3T, F3B)
rsi_axis = LinearAxis(ticker=FixedTicker(ticks=MONTH_POS), fixed_location=rsi_at(F3B),
                      major_label_overrides={m: ("" if l == "2025" else l) for m, l in zip(MONTH_POS, MONTH_LABELS)},
                      axis_line_color=None, major_tick_line_color=None, minor_tick_line_color=None,
                      major_label_text_font=FONT, major_label_text_font_size="12.5px",
                      major_label_text_color=TXT, major_label_standoff=0)
p3.add_layout(rsi_axis, "below")
p3.yaxis[0].ticker = FixedTicker(ticks=[20, 40, 60])
p3.yaxis[0].major_label_overrides = {20: "20.00", 40: "40.00", 60: "60.00"}
p3.ygrid.ticker = FixedTicker(ticks=[20, 40, 60])
p3.add_layout(BoxAnnotation(left=XL, right=XR, bottom=30, top=70, fill_color="#7e57c2", fill_alpha=0.1,
                            line_color=None, level="underlay"))
rx = np.arange(len(RSI))
for thr in [30.0, 27.0, 24.0, 21.0]:
    p3.varea(x=rx, y1=np.full(len(RSI), thr), y2=np.minimum(RSI, thr), fill_color="#ff8a8a", fill_alpha=0.16)
for lvl, alpha in [(70, 1), (50, 0.55), (30, 1)]:
    p3.line([XL, XR], [lvl, lvl], line_color="#787b86", line_alpha=alpha, line_width=1, line_dash=[4, 4])
p3.line(RSI_MA_X, RSI_MA_Y, line_color="#fdd835", line_width=1.3)
p3.line(np.concatenate(([-0.48], rx)), [RSI_BEFORE_FIRST_BAR] + RSI, line_color="#7e57c2", line_width=1.3)
rule(p3, FL, BORDER_R, 1113, 1115)
rule(p3, 9.5, 11, 1113, 1317, color=EDGE)
rule(p3, BORDER_R - 1, BORDER_R + 1, 1113, 1317, color=EDGE)
rule(p3, 9.5, BORDER_R + 1, 1315, 1317, color=EDGE)
put(p3, 18, 1129, "RSI (14, close, SMA, 14, 2)", size="12px")
put(p3, 166, 1129, "65.77", color="#7e57c2", size="12px")
put(p3, 203, 1129, "56.78", color="#fdd835", size="12px")
put(p3, 240, 1129, "∅", size="12px")
put(p3, 255, 1129, "∅", size="12px")
tag(p3, 1143, "65.77", "#7e57c2")
tag(p3, 1167, "56.78", "#ffeb3b", color=TXT)
put(p3, 1204.5, 1302, "2025", align="center", style="bold")

# TradingView footer mark, as outline shapes
def logo(xs, ys):
    p3.add_layout(PolyAnnotation(xs=list(xs), ys=[PAGE_B - y for y in ys], xs_units="screen", ys_units="screen",
                                 fill_color=TXT, fill_alpha=1, line_color=None))
logo([11, 19, 19, 15.5, 15.5, 11], [1330.5, 1330.5, 1339.5, 1339.5, 1334, 1334])
logo([24, 29, 26, 21.5], [1330.5, 1330.5, 1339.5, 1339.5])
logo([20, 22.5, 22.5, 20], [1330.5, 1330.5, 1333.5, 1333.5])
put(p3, 33, 1335, "TradingView", size="13px")

layout = column(p1, p2, p3, spacing=0)
open("out.html", "w").write(file_html(layout, INLINE))
